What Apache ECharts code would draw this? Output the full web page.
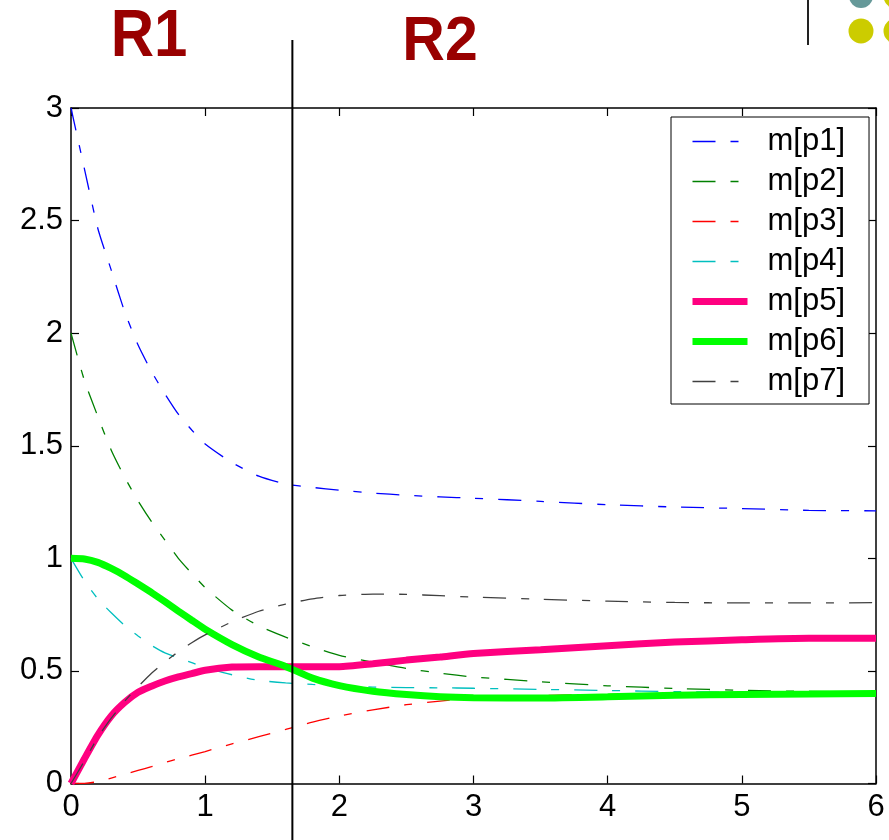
<!DOCTYPE html>
<html>
<head>
<meta charset="utf-8">
<script src="https://cdn.jsdelivr.net/npm/echarts@6/dist/echarts.min.js"></script>
<style>
  html, body { margin: 0; padding: 0; background: #fff; }
  #chart { width: 889px; height: 840px; }
</style>
</head>
<body>
<div id="chart"></div>
<script>
// time samples shared by every series
const tVals = [0, 0.1, 0.2, 0.3, 0.4, 0.5, 0.6, 0.7, 0.8, 0.9, 1.0, 1.2, 1.4, 1.6, 1.8,
  2.0, 2.25, 2.5, 2.75, 3.0, 3.5, 4.0, 4.5, 5.0, 5.5, 6.0];

const p1 = [3.0, 2.73, 2.465, 2.28, 2.095, 1.947, 1.83, 1.73, 1.64, 1.57, 1.508, 1.425, 1.365, 1.33, 1.315,
  1.303, 1.29, 1.28, 1.273, 1.267, 1.253, 1.238, 1.228, 1.221, 1.213, 1.211];
const p2 = [2.0, 1.79, 1.63, 1.48, 1.36, 1.255, 1.163, 1.081, 1.0, 0.933, 0.87, 0.77, 0.70, 0.65, 0.607,
  0.569, 0.539, 0.511, 0.49, 0.473, 0.452, 0.434, 0.422, 0.414, 0.409, 0.405];
const p3 = [0, 0.001, 0.008, 0.024, 0.041, 0.058, 0.075, 0.093, 0.11, 0.126, 0.142, 0.176, 0.208, 0.24, 0.273,
  0.30, 0.327, 0.35, 0.366, 0.378, 0.39, 0.396, 0.40, 0.402, 0.403, 0.404];
const p4 = [1.0, 0.90, 0.82, 0.758, 0.702, 0.655, 0.613, 0.58, 0.558, 0.537, 0.515, 0.483, 0.458, 0.447, 0.44,
  0.434, 0.428, 0.426, 0.425, 0.423, 0.418, 0.413, 0.408, 0.405, 0.403, 0.402];
const p5 = [0, 0.11, 0.215, 0.30, 0.36, 0.405, 0.432, 0.455, 0.473, 0.488, 0.503, 0.517, 0.519, 0.519, 0.519,
  0.519, 0.532, 0.548, 0.562, 0.577, 0.594, 0.612, 0.628, 0.638, 0.645, 0.645];
const p6 = [1.0, 0.997, 0.982, 0.955, 0.923, 0.886, 0.848, 0.808, 0.766, 0.725, 0.685, 0.617, 0.562, 0.52, 0.468,
  0.435, 0.41, 0.395, 0.385, 0.381, 0.38, 0.385, 0.392, 0.395, 0.397, 0.40];
const p7 = [0, 0.10, 0.205, 0.29, 0.365, 0.43, 0.49, 0.54, 0.585, 0.625, 0.66, 0.718, 0.765, 0.797, 0.82,
  0.835, 0.841, 0.84, 0.834, 0.828, 0.818, 0.81, 0.804, 0.802, 0.802, 0.803];

const seriesNames = ['m[p1]', 'm[p2]', 'm[p3]', 'm[p4]', 'm[p5]', 'm[p6]', 'm[p7]'];
const seriesValues = [p1, p2, p3, p4, p5, p6, p7];
const regionLabels = ['R1', 'R2'];
const regionBoundary = 1.65;

const colors = ['#0000ff', '#008000', '#ff0000', '#00bfbf', '#ff0080', '#00ff00', '#404040'];
const widths = [1.3, 1.3, 1.3, 1.3, 7, 7, 1.3];
const dashDot = [23, 15, 8, 15];
const FONT = '"Liberation Sans", Arial, sans-serif';

const chart = echarts.init(document.getElementById('chart'));

// boxed axes, ticks pointing in; onZero off so the top/right copies stay put
const axisLine = { show: true, onZero: false, lineStyle: { color: '#000', width: 1.5 } };
const tick = { show: true, inside: true, length: 8, lineStyle: { color: '#000', width: 1.2 } };

const option = {
  animation: false,
  grid: { left: 71, right: 13, top: 108, bottom: 56.5, containLabel: false },
  xAxis: [
    {
      type: 'value', position: 'bottom', min: 0, max: 6, interval: 1,
      axisLine, axisTick: tick, splitLine: { show: false },
      axisLabel: { fontSize: 31, color: '#000', fontFamily: FONT, margin: 8 }
    },
    {
      type: 'value', position: 'top', min: 0, max: 6, interval: 1,
      axisLine, axisTick: tick, splitLine: { show: false }, axisLabel: { show: false }
    }
  ],
  yAxis: [
    {
      type: 'value', position: 'left', min: 0, max: 3, interval: 0.5,
      axisLine, axisTick: tick, splitLine: { show: false },
      axisLabel: { fontSize: 31, color: '#000', fontFamily: FONT, margin: 8 }
    },
    {
      type: 'value', position: 'right', min: 0, max: 3, interval: 0.5,
      axisLine, axisTick: tick, splitLine: { show: false }, axisLabel: { show: false }
    }
  ],
  legend: {
    orient: 'vertical',
    left: 671,
    top: 117,
    backgroundColor: '#fff',
    borderColor: '#000',
    borderWidth: 1,
    borderRadius: 0,
    padding: [9, 24, 7, 18],
    itemWidth: 55,
    itemHeight: 14,
    itemGap: 9,
    selectedMode: false,
    lineStyle: { width: 'inherit' }, // sample takes the series width
    itemStyle: { opacity: 0 }, // hide the marker dot, keep the line sample
    textStyle: { fontSize: 31, lineHeight: 30, color: '#000', fontFamily: FONT, padding: [0, 0, 0, 15] },
    data: seriesNames
  },
  series: seriesNames.map((name, i) => ({
    name,
    type: 'line',
    symbol: 'none',
    smooth: 0.2,
    data: tVals.map((t, j) => [t, seriesValues[i][j]]),
    lineStyle: { color: colors[i], width: widths[i], type: widths[i] > 2 ? 'solid' : dashDot },
    itemStyle: { color: colors[i] }
  }))
};

chart.setOption(option);

// region boundary, drawn past the plot area like the original
const bx = chart.convertToPixel({ xAxisIndex: 0 }, regionBoundary);
chart.setOption({
  graphic: [
    { type: 'line', shape: { x1: bx, y1: 40, x2: bx, y2: 840 }, style: { stroke: '#000', lineWidth: 2 }, z: 100 },
    { type: 'text', x: 149, y: 37, scaleY: 1.12, style: { text: regionLabels[0], fill: '#990000', font: 'bold 60px ' + FONT, textAlign: 'center', textVerticalAlign: 'middle' } },
    { type: 'text', x: 440, y: 43, scaleY: 1.06, style: { text: regionLabels[1], fill: '#990000', font: 'bold 59px ' + FONT, textAlign: 'center', textVerticalAlign: 'middle' } },
    // slide decoration, top right corner
    { type: 'line', shape: { x1: 808, y1: 0, x2: 808, y2: 45 }, style: { stroke: '#222', lineWidth: 2 } },
    { type: 'circle', shape: { cx: 861, cy: -4, r: 12 }, style: { fill: '#669999' } },
    { type: 'circle', shape: { cx: 896, cy: -4, r: 12.5 }, style: { fill: '#cccc00' } },
    { type: 'circle', shape: { cx: 861, cy: 31, r: 12.5 }, style: { fill: '#cccc00' } },
    { type: 'circle', shape: { cx: 896, cy: 31, r: 12.5 }, style: { fill: '#cccc00' } }
  ]
});

window.addEventListener('resize', () => chart.resize());
</script>
</body>
</html>
